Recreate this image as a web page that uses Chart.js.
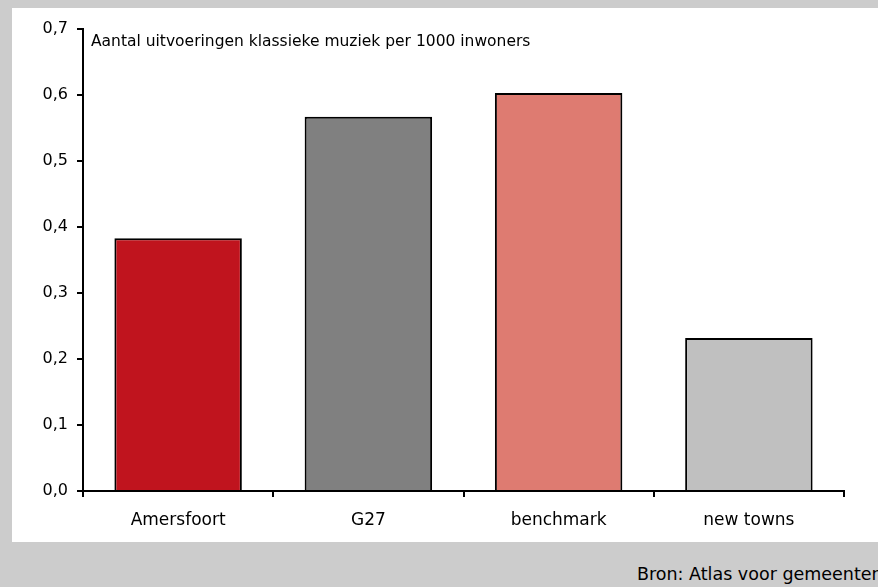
<!DOCTYPE html>
<html>
<head>
<meta charset="utf-8">
<script src="https://cdn.jsdelivr.net/npm/chart.js@4"></script>
<style>
  html, body { margin: 0; padding: 0; }
  body { width: 878px; height: 587px; background: #cccccc; position: relative; overflow: hidden; font-family: "DejaVu Sans", sans-serif; }
  #panel { position: absolute; left: 12px; top: 8px; width: 866px; height: 534px; background: #ffffff; }
  #source { position: absolute; left: 637px; top: 564px; font-size: 17.5px; line-height: 20px; color: #000; white-space: nowrap; }
</style>
</head>
<body>
<div id="panel"><canvas id="chart" width="866" height="534"></canvas></div>
<div id="source">Bron: Atlas voor gemeenten 2010</div>
<script>
let categories = ["Amersfoort", "G27", "benchmark", "new towns"];
let values = [0.383, 0.567, 0.603, 0.232];
let barColors = ["#c0141e", "#808080", "#de7b71", "#c0c0c0"];
let chartTitle = "Aantal uitvoeringen klassieke muziek per 1000 inwoners";

// title drawn inside the plot area, top-left
const innerTitle = {
    id: "innerTitle",
    afterDraw(chart) {
        let ctx = chart.ctx;
        ctx.save();
        ctx.font = "15.5px 'DejaVu Sans'";
        ctx.fillStyle = "#000";
        ctx.textBaseline = "alphabetic";
        ctx.fillText(chartTitle, chart.chartArea.left + 8, chart.chartArea.top + 17);
        ctx.restore();
    }
};

new Chart(document.getElementById("chart").getContext("2d"), {
    type: "bar",
    data: {
        labels: categories,
        datasets: [{
            data: values,
            backgroundColor: barColors,
            borderColor: "#000",
            borderWidth: 2,
            barPercentage: 0.67,
            categoryPercentage: 1
        }]
    },
    options: {
        responsive: false,
        animation: false,
        layout: { padding: { top: 21, right: 34 } },
        plugins: {
            legend: { display: false },
            tooltip: { enabled: false }
        },
        scales: {
            x: {
                border: { color: "#000", width: 2 },
                grid: { drawOnChartArea: false, color: "#000", lineWidth: 2, tickLength: 6, offset: true },
                ticks: { color: "#000", font: { family: "DejaVu Sans", size: 17 }, padding: 13 },
                afterFit(scale) { scale.height = 51; }
            },
            y: {
                min: 0,
                max: 0.7,
                border: { color: "#000", width: 2 },
                grid: { drawOnChartArea: false, color: "#000", lineWidth: 2, tickLength: 6 },
                ticks: {
                    stepSize: 0.1,
                    color: "#000",
                    padding: 9,
                    font: { family: "DejaVu Sans", size: 16 },
                    callback: v => v.toFixed(1).replace(".", ",")
                },
                afterFit(scale) { scale.width = 71; }
            }
        }
    },
    plugins: [innerTitle]
});
</script>
</body>
</html>
